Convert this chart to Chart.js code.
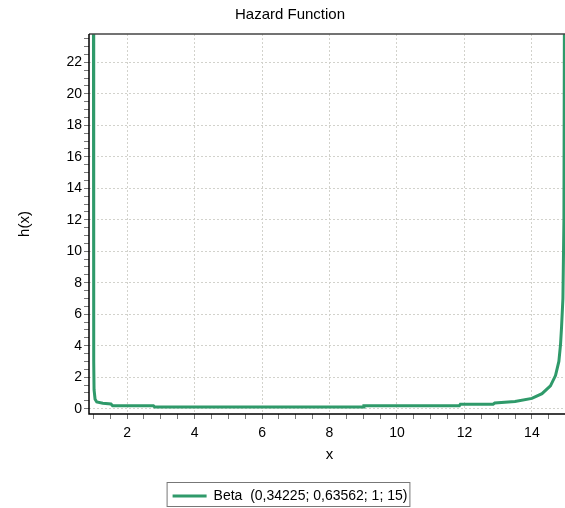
<!DOCTYPE html>
<html>
<head>
<meta charset="utf-8">
<script src="https://cdn.jsdelivr.net/npm/chart.js@4/dist/chart.umd.min.js"></script>
<style>
  html, body { margin: 0; padding: 0; background: #fff; overflow: hidden; }
  #wrap { width: 585px; height: 508px; }
</style>
</head>
<body>
<div id="wrap"><canvas id="myChart" width="585" height="508"></canvas></div>
<script>
const seriesLabel = 'Beta  (0,34225; 0,63562; 1; 15)';
// x and h(x)
const xValues = [1.0, 1.01, 1.02, 1.05, 1.1, 1.28, 1.52, 1.57, 2.78, 2.82, 9.0, 9.02, 11.85, 11.88, 12.85, 12.9, 13.5, 14.0, 14.3, 14.55, 14.7, 14.8, 14.85, 14.88, 14.92, 14.95, 14.97];
const hValues = [30, 3, 1.2, 0.6, 0.42, 0.34, 0.3, 0.18, 0.18, 0.1, 0.1, 0.18, 0.18, 0.28, 0.28, 0.36, 0.45, 0.65, 0.95, 1.45, 2.1, 3.0, 4.1, 5.2, 7, 12, 30];
const xMajorTicks = [2, 4, 6, 8, 10, 12, 14];
const yMajorTicks = [0, 2, 4, 6, 8, 10, 12, 14, 16, 18, 20, 22];

const lineColor = '#2f9a6a';
const gridColor = '#d2d2cc';
const fontFamily = '"Liberation Sans", Arial, sans-serif';

function minorTicks(from, to, step) {
  const t = [];
  for (let v = from; v <= to + 1e-9; v += step) t.push({ value: Math.round(v * 10) / 10 });
  return t;
}

const frame = {
  id: 'frame',
  afterDraw(chart) {
    const { ctx, chartArea: a } = chart;
    ctx.save();
    ctx.lineWidth = 1.5;
    ctx.strokeStyle = '#444';
    ctx.beginPath();
    ctx.moveTo(a.left, a.top);
    ctx.lineTo(a.right, a.top);
    ctx.stroke();
    ctx.strokeStyle = '#000';
    ctx.beginPath();
    ctx.moveTo(a.left, a.top);
    ctx.lineTo(a.left, a.bottom);
    ctx.lineTo(a.right, a.bottom);
    ctx.stroke();
    // legend box
    const hb = chart.legend.legendHitBoxes[0];
    if (hb) {
      ctx.lineWidth = 1;
      ctx.strokeStyle = '#777';
      ctx.strokeRect(hb.left - 5.5, 482.5, hb.width + 8, 24);
    }
    ctx.restore();
  }
};

const ctx = document.getElementById('myChart').getContext('2d');
const myChart = new Chart(ctx, {
  type: 'line',
  data: {
    datasets: [{
      label: seriesLabel,
      data: xValues.map((x, i) => ({ x: x, y: hValues[i] })),
      borderColor: lineColor,
      backgroundColor: lineColor,
      borderWidth: 3,
      pointRadius: 0,
      tension: 0,
      fill: false
    }]
  },
  options: {
    responsive: false,
    animation: false,
    layout: { padding: { left: 10, right: 15, top: 0, bottom: -5 } },
    plugins: {
      title: {
        display: true,
        text: 'Hazard Function',
        color: '#000',
        font: { family: fontFamily, size: 15, weight: 'normal' },
        padding: { top: 6, bottom: 10 }
      },
      legend: {
        position: 'bottom',
        labels: {
          color: '#000',
          font: { family: fontFamily, size: 14 },
          usePointStyle: true,
          pointStyle: 'line',
          pointStyleWidth: 34,
          padding: 1
        }
      },
      tooltip: { enabled: false }
    },
    scales: {
      x: {
        type: 'linear',
        min: 0.87,
        max: 15.13,
        afterBuildTicks: (scale) => { scale.ticks = minorTicks(1, 15, 0.5); },
        afterFit: (scale) => { scale.height = 74; },
        ticks: {
          autoSkip: false,
          maxRotation: 0,
          padding: 6,
          color: '#000',
          font: { family: fontFamily, size: 14 },
          callback: (v) => xMajorTicks.includes(v) ? String(v) : ''
        },
        grid: {
          drawTicks: true,
          tickLength: 5,
          color: (c) => (c.tick && xMajorTicks.includes(c.tick.value)) ? gridColor : 'rgba(0,0,0,0)',
          tickColor: '#777',
          lineWidth: 1
        },
        border: { display: false, dash: [2, 2] },
        title: {
          display: true,
          text: 'x',
          color: '#000',
          font: { family: fontFamily, size: 15 },
          padding: { top: 3, bottom: 24 }
        }
      },
      y: {
        type: 'linear',
        min: -0.34,
        max: 23.8,
        afterBuildTicks: (scale) => { scale.ticks = minorTicks(0, 23.5, 0.5); },
        afterFit: (scale) => { scale.width = 79; },
        ticks: {
          autoSkip: false,
          padding: 2,
          color: '#000',
          font: { family: fontFamily, size: 14 },
          callback: (v) => yMajorTicks.includes(v) ? String(v) : ''
        },
        grid: {
          drawTicks: true,
          tickLength: 5,
          color: (c) => (c.tick && yMajorTicks.includes(c.tick.value)) ? gridColor : 'rgba(0,0,0,0)',
          tickColor: '#777',
          lineWidth: 1
        },
        border: { display: false, dash: [2, 2] },
        title: {
          display: true,
          text: 'h(x)',
          color: '#000',
          font: { family: fontFamily, size: 15 },
          padding: { top: 6, bottom: 0 }
        }
      }
    }
  },
  plugins: [frame]
});
</script>
</body>
</html>
